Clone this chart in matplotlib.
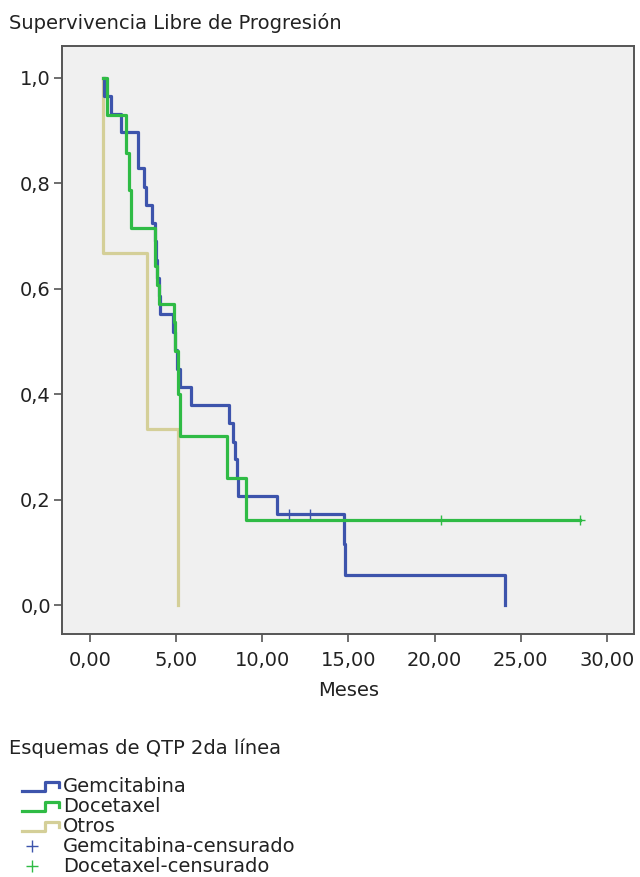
import numpy as np
import matplotlib
matplotlib.use('Agg')
import matplotlib.pyplot as plt
from matplotlib.lines import Line2D
from matplotlib.legend_handler import HandlerBase
from matplotlib.ticker import FuncFormatter

# Kaplan-Meier steps: time of each drop (months) and survival after the drop
gem_start = 0.82
gem_t = [0.82, 1.20, 1.80, 2.77, 3.10, 3.23, 3.58, 3.74, 3.80, 3.87, 4.00, 4.07,
         4.84, 4.95, 5.04, 5.23, 5.87, 8.04, 8.30, 8.43, 8.53, 8.57, 10.85,
         14.73, 14.83, 24.09]
gem_s = [0.966, 0.931, 0.897, 0.828, 0.793, 0.759, 0.724, 0.690, 0.655, 0.621, 0.586, 0.552,
         0.517, 0.483, 0.448, 0.414, 0.379, 0.345, 0.310, 0.276, 0.241, 0.207, 0.172,
         0.115, 0.057, 0.0]
gem_cens_t = [11.53, 12.75]
gem_cens_s = [0.172, 0.172]

doc_start = 0.75
doc_t = [1.00, 2.09, 2.25, 2.36, 3.74, 3.87, 3.97, 4.85, 4.94, 5.08, 5.19, 7.95, 9.07]
doc_s = [0.929, 0.857, 0.786, 0.714, 0.643, 0.607, 0.571, 0.536, 0.482, 0.400, 0.321, 0.241, 0.161]
doc_end = 28.45
doc_cens_t = [20.35, 28.45]
doc_cens_s = [0.161, 0.161]

otr_start = 0.72
otr_t = [0.72, 3.33, 5.08]
otr_s = [0.667, 0.333, 0.0]

labels = ['Gemcitabina', 'Docetaxel', 'Otros', 'Gemcitabina-censurado', 'Docetaxel-censurado']

c_gem = '#3d54ac'
c_doc = '#2fbb45'
c_otr = '#d4cf98'
txt = '#222222'
fs = 14

plt.rcParams['font.family'] = ['DejaVu Sans']

fig = plt.figure(figsize=(6.4, 8.77), dpi=100)
fig.patch.set_facecolor('white')
ax = fig.add_axes([0.097, 0.277, 0.894, 0.670])
ax.set_facecolor('#f0f0f0')

lw = 2.3
ax.step([gem_start] + gem_t, [1.0] + gem_s, where='post', color=c_gem, lw=lw, zorder=3)
ax.step([doc_start] + doc_t + [doc_end], [1.0] + doc_s + [doc_s[-1]], where='post',
        color=c_doc, lw=lw, zorder=4)
ax.step([otr_start] + otr_t, [1.0] + otr_s, where='post', color=c_otr, lw=lw, zorder=2)
ax.plot(gem_cens_t, gem_cens_s, '+', color=c_gem, ms=7, mew=1.0, zorder=5)
ax.plot(doc_cens_t, doc_cens_s, '+', color=c_doc, ms=7, mew=1.0, zorder=5)

ax.set_xlim(-1.63, 31.6)
ax.set_ylim(-0.055, 1.059)
ax.set_xticks(np.arange(0, 31, 5))
ax.set_yticks(np.arange(0, 1.01, 0.2))
ax.xaxis.set_major_formatter(FuncFormatter(lambda v, p: f'{v:.2f}'.replace('.', ',')))
ax.yaxis.set_major_formatter(FuncFormatter(lambda v, p: f'{v:.1f}'.replace('.', ',')))
ax.tick_params(direction='out', length=6, width=1.2, color='#555555',
               labelsize=fs, labelcolor=txt)
ax.tick_params(axis='x', pad=6)
ax.tick_params(axis='y', pad=2)
for sp in ax.spines.values():
    sp.set_color('#555555')
    sp.set_linewidth(1.4)

ax.set_xlabel('Meses', fontsize=fs, color=txt, labelpad=8)
fig.text(0.014, 0.974, 'Supervivencia Libre de Progresión', fontsize=fs,
         color=txt, va='center', ha='left')
fig.text(0.014, 0.147, 'Esquemas de QTP 2da línea', fontsize=fs,
         color=txt, va='center', ha='left')


class StepHandler(HandlerBase):
    # small step-shaped icon like the survival curves
    def create_artists(self, legend, orig, xd, yd, w, h, fontsize, trans):
        xs = [xd, xd + 0.6 * w, xd + 0.6 * w, xd + 0.95 * w, xd + 0.95 * w]
        ys = [yd + 0.1 * h, yd + 0.1 * h, yd + 0.75 * h, yd + 0.75 * h, yd + 0.4 * h]
        return [Line2D(xs, ys, color=orig.get_color(), lw=2.3, transform=trans)]


class CrossHandler(HandlerBase):
    def create_artists(self, legend, orig, xd, yd, w, h, fontsize, trans):
        return [Line2D([xd + 0.26 * w], [yd + 0.4 * h], marker='+', ls='none',
                       color=orig.get_color(), ms=9, mew=1.0, transform=trans)]


h_gem = Line2D([], [], color=c_gem)
h_doc = Line2D([], [], color=c_doc)
h_otr = Line2D([], [], color=c_otr)
h_gc = Line2D([], [], color=c_gem, marker='+')
h_dc = Line2D([], [], color=c_doc, marker='+')
handler_map = {h_gem: StepHandler(), h_doc: StepHandler(), h_otr: StepHandler(),
               h_gc: CrossHandler(), h_dc: CrossHandler()}
leg = fig.legend([h_gem, h_doc, h_otr, h_gc, h_dc], labels, handler_map=handler_map,
                 loc='upper left', bbox_to_anchor=(0.034, 0.114), frameon=False,
                 fontsize=fs, handlelength=2.0, handletextpad=0.12,
                 labelspacing=0.05, borderaxespad=0, borderpad=0)
for t in leg.get_texts():
    t.set_color(txt)

fig.savefig('out.png', dpi=100, facecolor=fig.get_facecolor())
